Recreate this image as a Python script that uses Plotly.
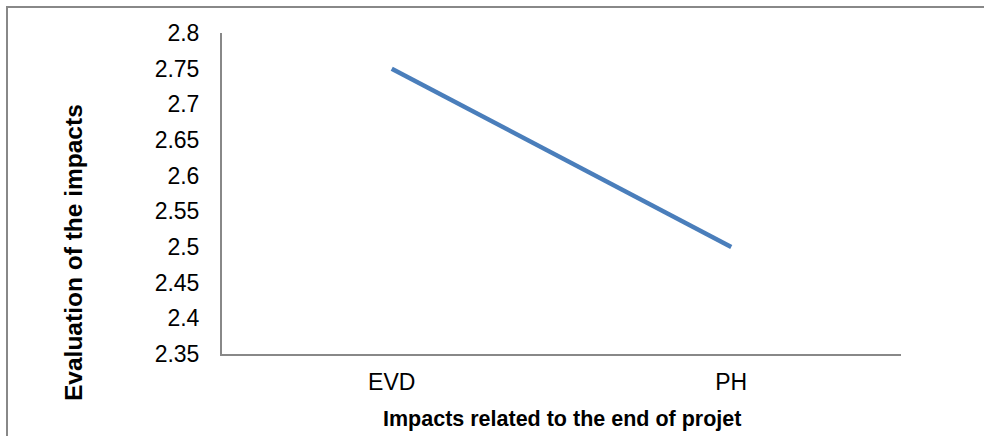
import plotly.graph_objects as go

# Impact evaluation per category
categories = ["EVD", "PH"]
values = [2.75, 2.5]
y_ticks = [2.35, 2.4, 2.45, 2.5, 2.55, 2.6, 2.65, 2.7, 2.75, 2.8]
y_tick_text = ["2.35", "2.4", "2.45", "2.5", "2.55", "2.6", "2.65", "2.7", "2.75", "2.8"]

x_title = "Impacts related to the end of projet"
y_title = "Evaluation of the impacts"

W, H = 984, 436
ML, MR, MT, MB = 222, 83, 33, 82
pw, ph = W - ML - MR, H - MT - MB


def px_x(p):
    return (p - ML) / pw


def px_y(p):
    return (H - MB - p) / ph


fig = go.Figure()
fig.add_trace(go.Scatter(
    x=categories, y=values, mode="lines",
    line=dict(color="#4A7EBB", width=4.5),
    showlegend=False, hoverinfo="skip",
))

font = "Arial, Liberation Sans, sans-serif"
fig.update_layout(
    width=W, height=H,
    margin=dict(l=ML, r=MR, t=MT, b=MB),
    paper_bgcolor="white", plot_bgcolor="white",
    font=dict(family=font, size=23, color="black"),
    xaxis=dict(
        type="category", range=[-0.5, 1.5],
        showline=True, linecolor="#888888", linewidth=2,
        showgrid=False, zeroline=False, ticks="",
        tickfont=dict(size=23), ticklabelstandoff=6,
    ),
    yaxis=dict(
        range=[2.35, 2.8], tickvals=y_ticks, ticktext=y_tick_text,
        showline=True, linecolor="#888888", linewidth=2,
        showgrid=False, zeroline=False, ticks="",
        tickfont=dict(size=23), ticklabelstandoff=16,
    ),
    annotations=[
        dict(text="<b>%s</b>" % x_title, xref="paper", yref="paper",
             x=px_x(562), y=px_y(419), xanchor="center", yanchor="middle",
             showarrow=False, font=dict(size=21.5)),
        dict(text="<b>%s</b>" % y_title, xref="paper", yref="paper",
             x=px_x(73), y=px_y(253), xanchor="center", yanchor="middle",
             textangle=-90, showarrow=False, font=dict(size=24.5)),
    ],
    shapes=[dict(
        type="rect", xref="paper", yref="paper",
        x0=px_x(7), x1=px_x(992), y0=px_y(445), y1=px_y(7),
        line=dict(color="#888888", width=2), fillcolor="rgba(0,0,0,0)",
        layer="below",
    )],
)

fig.write_html("out.html")
